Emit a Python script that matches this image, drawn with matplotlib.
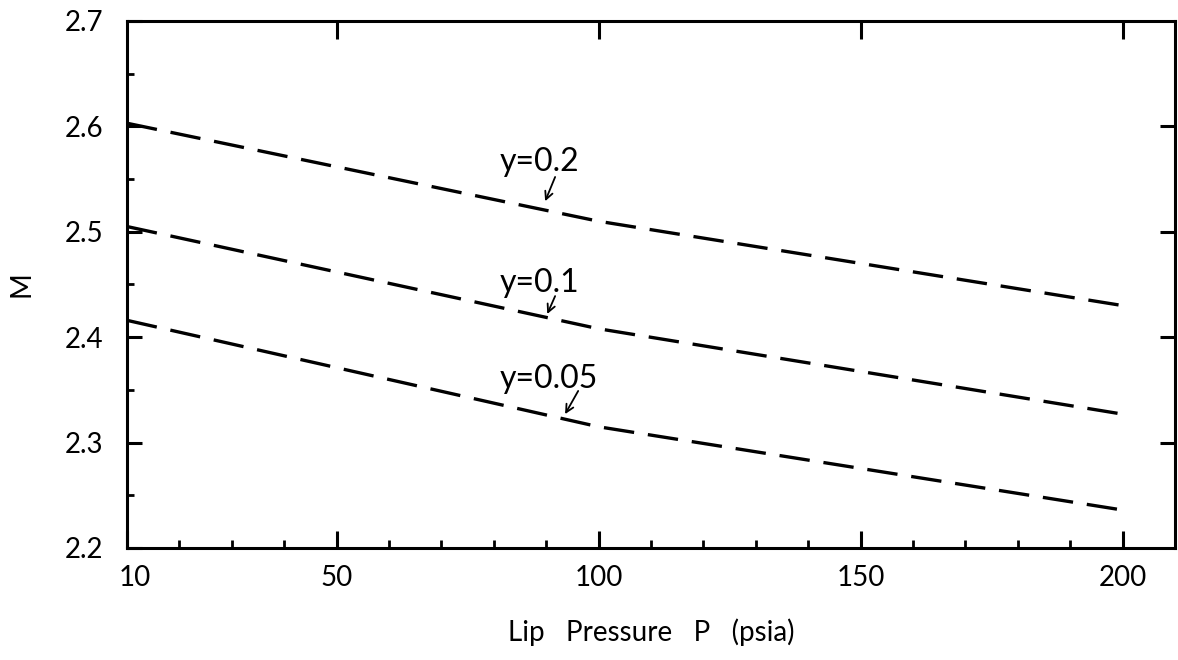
import matplotlib
matplotlib.use("Agg")
import matplotlib.pyplot as plt
import matplotlib.transforms as mtransforms
from matplotlib.ticker import FixedLocator

plt.rcParams['font.family'] = ['Lato', 'DejaVu Sans']
plt.rcParams['lines.scale_dashes'] = False

# Lip pressure (psia) and Mach number for each y value
pressure = [10, 100, 200]
mach_y020 = [2.603, 2.510, 2.430]
mach_y010 = [2.505, 2.408, 2.327]
mach_y005 = [2.416, 2.315, 2.236]

# label text, values, text baseline position, arrow tail, arrow head
series = [
    ("y=0.2", mach_y020, (81.2, 2.558), (91.7, 2.552), (89.8, 2.529)),
    ("y=0.1", mach_y010, (81.2, 2.443), (91.7, 2.439), (90.2, 2.422)),
    ("y=0.05", mach_y005, (81.2, 2.352), (96.1, 2.349), (93.6, 2.327)),
]

x_major = [10, 50, 100, 150, 200]
x_top = [50, 100, 150, 200]
y_major = [2.2, 2.3, 2.4, 2.5, 2.6, 2.7]
y_right = [2.3, 2.4, 2.5, 2.6]

fig = plt.figure(figsize=(11.78, 6.6), dpi=100)
ax = fig.add_axes([0.1078, 0.1697, 0.8897, 0.7985])

for label, vals, txt_pos, arr_start, arr_end in series:
    ax.plot(pressure, vals, color='black', linewidth=2.4,
            dashes=(22, 10), solid_capstyle='butt', dash_capstyle='butt')
    ax.text(txt_pos[0], txt_pos[1], label, fontsize=23, ha='left', va='baseline')
    ax.annotate('', xy=arr_end, xytext=arr_start,
                arrowprops=dict(arrowstyle='->', color='black', lw=1.3,
                                mutation_scale=14, shrinkA=0, shrinkB=0))

ax.set_xlim(10, 210)
ax.set_ylim(2.2, 2.7)

for s in ax.spines.values():
    s.set_linewidth(2.2)

ax.xaxis.set_major_locator(FixedLocator(x_major))
ax.xaxis.set_minor_locator(FixedLocator([v for v in range(20, 200, 10) if v % 50 != 0]))
ax.yaxis.set_major_locator(FixedLocator(y_major))
ax.yaxis.set_minor_locator(FixedLocator([2.25, 2.35, 2.45, 2.55, 2.65]))
ax.set_yticklabels([f"{v:.1f}" for v in y_major])
ax.set_xticklabels([str(v) for v in x_major])

ax.tick_params(axis='x', which='major', direction='in', length=12, width=2.2,
               labelsize=20, pad=12, top=False)
ax.tick_params(axis='x', which='minor', direction='in', length=6, width=2.0, top=False)
ax.tick_params(axis='y', which='major', direction='in', length=11, width=2.2,
               labelsize=20, pad=17, right=False)
ax.tick_params(axis='y', which='minor', direction='in', length=5, width=2.0, right=False)

# nudge the corner label "10" clear of the left spine
first = ax.get_xticklabels()[0]
first.set_transform(first.get_transform() +
                    mtransforms.ScaledTranslation(8 / 100, 0, fig.dpi_scale_trans))

# Top and right ticks drawn on secondary axes so they can differ from bottom/left
axt = ax.secondary_xaxis('top')
axt.set_xticks(x_top)
axt.tick_params(direction='in', length=13, width=2.2, labeltop=False)
axt.spines['top'].set_visible(False)

axr = ax.secondary_yaxis('right')
axr.set_yticks(y_right)
axr.tick_params(direction='in', length=11, width=2.2, labelright=False)
axr.spines['right'].set_visible(False)

ax.set_xlabel("Lip   Pressure   P   (psia)", fontsize=20, labelpad=20)
ax.set_ylabel("M", fontsize=20, labelpad=22)

fig.savefig("out.png", dpi=100)
